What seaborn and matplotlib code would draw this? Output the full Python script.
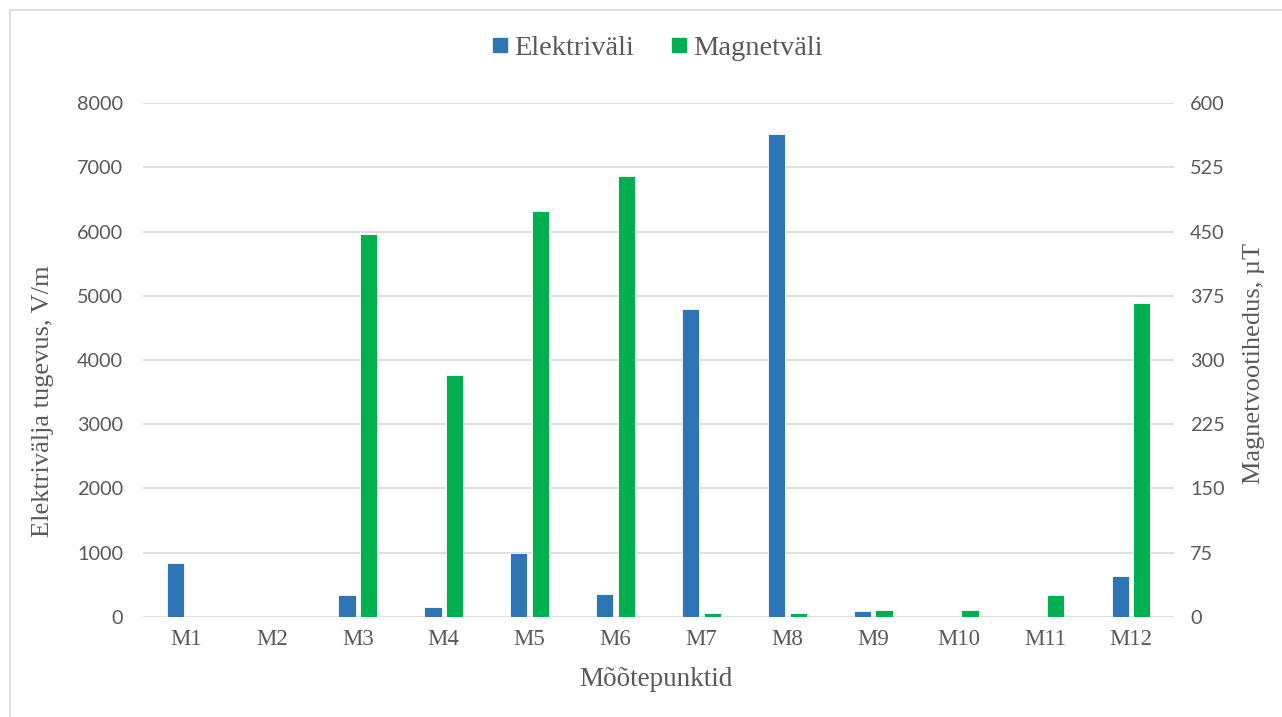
import numpy as np
import pandas as pd
import matplotlib
matplotlib.use("Agg")
import matplotlib.pyplot as plt
from matplotlib.lines import Line2D
import seaborn as sns

points = ["M1", "M2", "M3", "M4", "M5", "M6", "M7", "M8", "M9", "M10", "M11", "M12"]
elektri = [840, 0, 340, 160, 990, 360, 4790, 7520, 88, 0, 5, 633]   # V/m
magnet = [0.3, 0.3, 447, 282, 474, 515, 4.3, 4.3, 7.8, 7.8, 25.3, 367]   # uT

blue = "#2E75B6"
green = "#00B050"
grid = "#D9D9D9"
txt = "#595959"

hue_order = ["Elektriväli", "Magnetväli"]
pal = {"Elektriväli": blue, "Magnetväli": green}
nan = [np.nan] * len(points)

# each axis gets both series so the bars dodge side by side; the other one is empty
df_left = pd.concat([
    pd.DataFrame({"point": points, "value": elektri, "series": "Elektriväli"}),
    pd.DataFrame({"point": points, "value": nan, "series": "Magnetväli"}),
], ignore_index=True)
df_right = pd.concat([
    pd.DataFrame({"point": points, "value": nan, "series": "Elektriväli"}),
    pd.DataFrame({"point": points, "value": magnet, "series": "Magnetväli"}),
], ignore_index=True)

sns.set_style("white")
fig = plt.figure(figsize=(12.82, 7.17), dpi=100)
ax = fig.add_axes([0.1115, 0.1395, 0.8043, 0.7168])
ax2 = ax.twinx()

for d, a in ((df_left, ax), (df_right, ax2)):
    sns.barplot(data=d, x="point", y="value", hue="series", hue_order=hue_order,
                palette=pal, order=points, width=0.5, gap=0.2, dodge=True,
                saturation=1, ax=a, legend=False, edgecolor="white", linewidth=0.6)

ax.set_ylim(0, 8000)
ax2.set_ylim(0, 600)
ax.set_xlim(-0.5, 11.5)
ax.set_yticks(np.arange(0, 8001, 1000))
ax2.set_yticks(np.arange(0, 601, 75))
ax.yaxis.grid(True, color=grid, linewidth=1.2)
ax.set_axisbelow(True)
ax2.grid(False)

for a in (ax, ax2):
    for s in a.spines.values():
        s.set_visible(False)
    a.tick_params(length=0, colors=txt, labelsize=14.3)
    for lab in a.get_yticklabels() + a.get_xticklabels():
        lab.set_fontfamily("Lato")
ax.tick_params(axis="y", pad=14.4)
ax2.tick_params(axis="y", pad=11.5)
for lab in ax.get_xticklabels():
    lab.set_fontfamily("Liberation Serif")
    lab.set_fontsize(16.5)
ax.tick_params(axis="x", pad=9)

serif = "Liberation Serif"
ax.set_xlabel("Mõõtepunktid", family=serif, fontsize=19.5, color=txt)
ax.set_ylabel("Elektrivälja tugevus, V/m", family=serif, fontsize=19, color=txt)
ax2.set_ylabel("Magnetvootihedus, µT", family=serif, fontsize=19, color=txt)
ax.xaxis.set_label_coords(0.4976, -0.097)
ax.yaxis.set_label_coords(-0.0863, 0.42)
ax2.yaxis.set_label_coords(1.067, 0.494)

handles = [Line2D([], [], marker="s", linestyle="", color=blue, markersize=10.5),
           Line2D([], [], marker="s", linestyle="", color=green, markersize=10.5)]
fig.legend(handles, hue_order, loc="center", bbox_to_anchor=(0.512, 0.933), ncol=2,
           frameon=False, prop={"family": serif, "size": 20.5}, labelcolor=txt,
           handletextpad=0.15, columnspacing=1.25, handlelength=0.7)

# chart area border (top and left visible)
fig.add_artist(Line2D([0.0075, 1.0], [0.986, 0.986], color=grid, linewidth=1.2))
fig.add_artist(Line2D([0.0075, 0.0075], [0.0, 0.986], color=grid, linewidth=1.2))

fig.savefig("out.png", dpi=100)
